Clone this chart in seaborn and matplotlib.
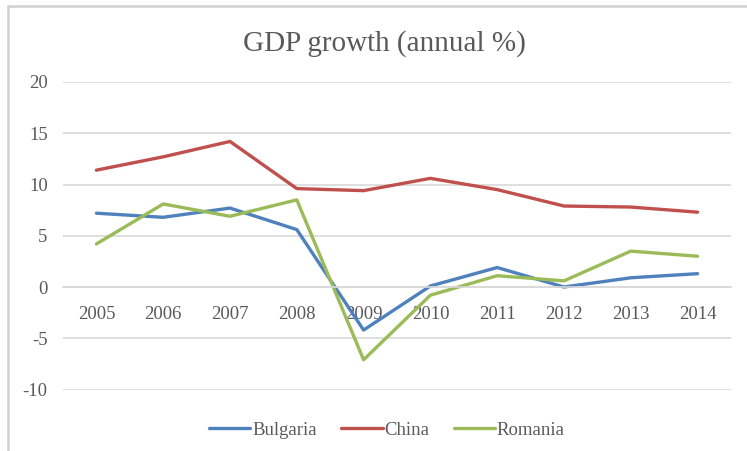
import matplotlib
matplotlib.use("Agg")
import matplotlib.pyplot as plt
from matplotlib.patches import Rectangle
import pandas as pd
import seaborn as sns

# GDP growth (annual %) by country
years = [2005, 2006, 2007, 2008, 2009, 2010, 2011, 2012, 2013, 2014]
bulgaria = [7.2, 6.8, 7.7, 5.6, -4.2, 0.1, 1.9, 0.0, 0.9, 1.3]
china = [11.4, 12.7, 14.2, 9.6, 9.4, 10.6, 9.5, 7.9, 7.8, 7.3]
romania = [4.2, 8.1, 6.9, 8.5, -7.1, -0.8, 1.1, 0.6, 3.5, 3.0]
countries = ["Bulgaria", "China", "Romania"]
y_ticks = [-10, -5, 0, 5, 10, 15, 20]

df = pd.DataFrame({
    "year": years * 3,
    "growth": bulgaria + china + romania,
    "country": [c for c in countries for _ in years],
})

sns.set_theme(style="white")
plt.rcParams["font.family"] = ["Liberation Serif", "DejaVu Serif"]
plt.rcParams["axes.unicode_minus"] = False

TEXT = "#595959"
GRID = "#D9D9D9"
palette = {"Bulgaria": "#4F81BD", "China": "#C0504D", "Romania": "#9BBB59"}

W, H = 747, 451
fig = plt.figure(figsize=(W / 100, H / 100), dpi=100)
ax = fig.add_axes([63 / W, 1 - 389.5 / H, (731 - 63) / W, (389.5 - 82) / H])

sns.lineplot(data=df, x="year", y="growth", hue="country", hue_order=countries,
             palette=palette, linewidth=2.4, ax=ax, legend=True)

ax.set_xlim(years[0] - 0.5, years[-1] + 0.5)
ax.set_ylim(-10, 20)
ax.set_yticks(y_ticks)
ax.set_xticks(years)
ax.set_xticklabels([str(y) for y in years])
ax.set_xlabel("")
ax.set_ylabel("")

ax.yaxis.grid(True, color=GRID, linewidth=1.2)
ax.xaxis.grid(False)
ax.set_axisbelow(True)
for side in ("left", "right", "top"):
    ax.spines[side].set_visible(False)
ax.spines["bottom"].set_position(("data", 0))
ax.spines["bottom"].set_color(GRID)
ax.spines["bottom"].set_linewidth(1.2)

ax.tick_params(axis="both", length=0, labelsize=13.5, colors=TEXT)
ax.tick_params(axis="y", pad=11)
ax.tick_params(axis="x", pad=13.5)

# Legend below the plot
handles, labels = ax.get_legend_handles_labels()
ax.get_legend().remove()
fig.legend(handles, labels, loc="center", bbox_to_anchor=(387 / W, 1 - 430 / H),
           ncol=3, frameon=False, fontsize=13.5, labelcolor=TEXT,
           handlelength=2.2, handletextpad=0.1, columnspacing=1.3)

fig.text(384 / W, 1 - 44 / H, "GDP growth (annual %)", ha="center", va="center",
         fontsize=21, color=TEXT)

# Chart area border
fig.add_artist(Rectangle((8 / W, -0.1), 1.2, (H - 6) / H + 0.1,
                         transform=fig.transFigure, fill=False,
                         edgecolor="#D0D0D0", linewidth=1.8))

fig.savefig("out.png", dpi=100, facecolor="white")
